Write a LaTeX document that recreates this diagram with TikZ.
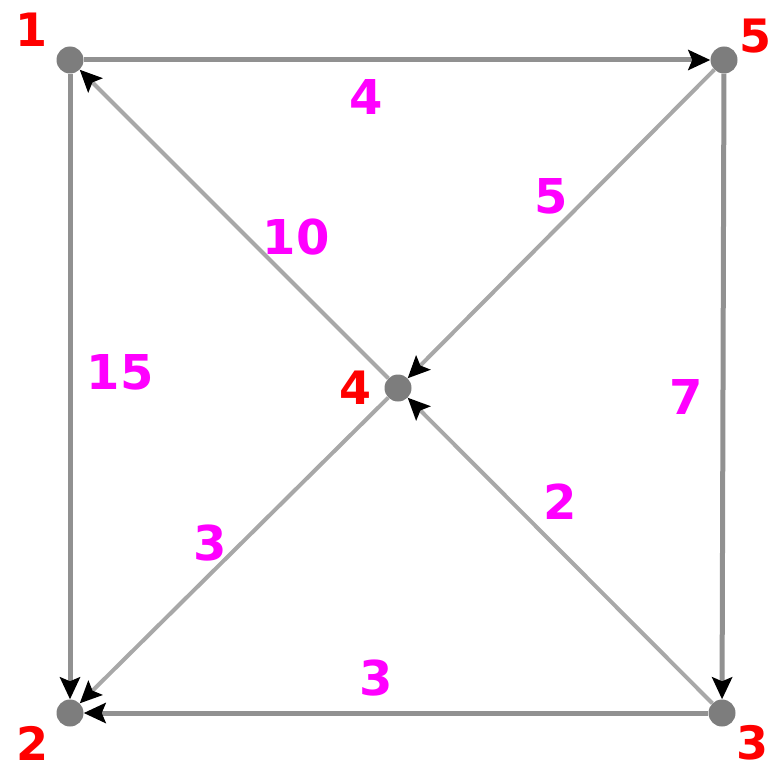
\documentclass[tikz,border=0pt]{standalone}
\usepackage{fontspec}
\setmainfont{DejaVu Sans}
\usetikzlibrary{arrows.meta}
\definecolor{edgeg}{RGB}{145,145,145}
\definecolor{diag}{RGB}{168,168,168}
\definecolor{nodeg}{RGB}{125,125,125}
\definecolor{lab}{RGB}{255,0,0}
\definecolor{wt}{RGB}{255,0,255}
\tikzset{
  vtx/.style={circle,fill=nodeg,inner sep=0pt,minimum size=27pt},
  idlab/.style={text=lab,font=\bfseries\fontsize{46}{46}\selectfont,inner sep=0pt},
  wlab/.style={text=wt,font=\bfseries\fontsize{48}{48}\selectfont,inner sep=0pt},
  sidee/.style={draw=edgeg,line width=5pt,-{Stealth[length=22pt,width=20pt,inset=4pt,black]}},
  diage/.style={draw=diag,line width=4pt,-{Stealth[length=22pt,width=20pt,inset=4pt,black]}},
}
\begin{document}
\begin{tikzpicture}[x=1pt,y=-1pt]
\useasboundingbox (0,0) rectangle (784,773);
\node[vtx] (n1) at (70,60) {};
\node[vtx] (n5) at (724,60) {};
\node[vtx] (n4) at (398,388) {};
\node[vtx] (n2) at (70,713) {};
\node[vtx] (n3) at (722,713) {};
\node[idlab] (l1) at (32,30) {1};
\node[idlab] (l5) at (755,36) {5};
\node[idlab] (l4) at (355,388) {4};
\node[idlab] (l2) at (33,743) {2};
\node[idlab] (l3) at (752,743) {3};
\draw[sidee] (n1) -- (n5);
\draw[diage] (n4) -- (n1);
\draw[diage] (n5) -- (n4);
\draw[diage] (n3) -- (n4);
\draw[diage] (n4) -- (n2);
\draw[sidee] (n3) -- (n2);
\draw[sidee] (n1) -- (n2);
\draw[sidee] (n5) -- (n3);
\node[wlab] (w15) at (366,97) {4};
\node[wlab] (w14) at (296,237) {10};
\node[wlab] (w54) at (551,196) {5};
\node[wlab] (w12) at (120,372) {15};
\node[wlab] (w53) at (686,397) {7};
\node[wlab] (w34) at (560,502) {2};
\node[wlab] (w42) at (210,543) {3};
\node[wlab] (w32) at (376,678) {3};
\end{tikzpicture}
\end{document}
